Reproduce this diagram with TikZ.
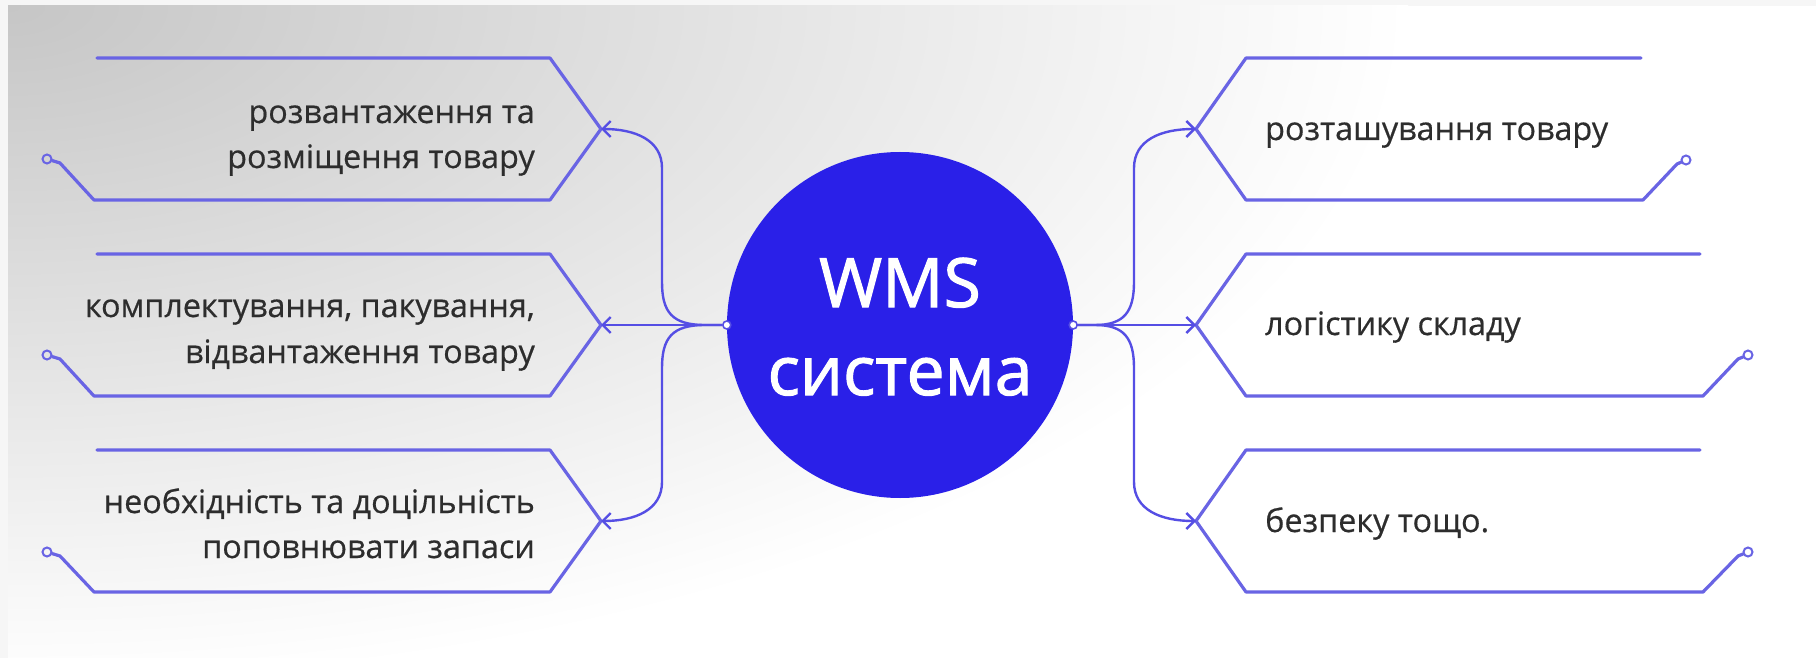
\documentclass[tikz,border=0pt]{standalone}
\usepackage{fontspec}
\setmainfont{Open Sans}
\newfontfamily\ctrfont[FakeBold=1.6]{Open Sans}
\newfontfamily\lblfont[FakeBold=0.5]{Open Sans}
\usetikzlibrary{arrows.meta}
\definecolor{wmsblue}{RGB}{42,32,232}
\definecolor{boxline}{RGB}{105,100,228}
\definecolor{conn}{RGB}{85,78,228}
\definecolor{txt}{RGB}{45,45,45}
\definecolor{bgdark}{RGB}{198,198,198}
\definecolor{bgedge}{RGB}{246,246,246}
\begin{document}
\begin{tikzpicture}[x=1pt,y=-1pt,
  boxln/.style={draw=boxline,line width=3.2pt,line join=round,line cap=round},
  cn/.style={draw=conn,line width=2.4pt},
  arr/.style={-{Straight Barb[length=8pt,width=16pt]}},
  endc/.style={circle,draw=boxline,line width=2pt,minimum size=9pt,inner sep=0pt},
  dotc/.style={circle,draw=conn,fill=white,line width=1.6pt,minimum size=8pt,inner sep=0pt},
  lbl/.style={font=\lblfont\fontsize{32.3}{40}\selectfont,text=txt,inner sep=0pt},
  ctr/.style={font=\ctrfont\fontsize{68}{88}\selectfont,text=white,inner sep=0pt}]
\useasboundingbox (0,0) rectangle (1816,658);
\fill[bgedge] (0,0) rectangle (1816,658);
\begin{scope}
\clip (8,6) rectangle (1816,658);
\fill[white] (8,6) rectangle (1816,658);
\shade[inner color=bgdark, outer color=white] (8,6) ellipse [x radius=1400, y radius=680];
\end{scope}

% central circle
\node[circle,fill=wmsblue,minimum size=346pt,inner sep=0pt] (wms) at (900,325) {};
\node[ctr,anchor=base] (w1) at (900,307) {WMS};
\node[ctr,anchor=base] (w2) at (900,395) {система};
\node[dotc] (dL) at (wms.west) {};
\node[dotc] (dR) at (wms.east) {};

% tips
\coordinate (tL1) at (601,129);
\coordinate (tL2) at (601,325);
\coordinate (tL3) at (601,521);
\coordinate (tR1) at (1196,129);
\coordinate (tR2) at (1196,325);
\coordinate (tR3) at (1196,521);

% end circles
\node[endc] (eL1) at (47,159) {};
\node[endc] (eL2) at (47,355) {};
\node[endc] (eL3) at (47,552) {};
\node[endc] (eR1) at (1686,160) {};
\node[endc] (eR2) at (1748,355) {};
\node[endc] (eR3) at (1748,552) {};

% left boxes
\draw[boxln] (97,58) -- (550,58) -- (tL1) -- (550,200) -- (94,200) -- (60,163) -- (eL1);
\draw[boxln] (97,254) -- (550,254) -- (tL2) -- (550,396) -- (94,396) -- (60,359) -- (eL2);
\draw[boxln] (97,450) -- (550,450) -- (tL3) -- (550,592) -- (94,592) -- (60,556) -- (eL3);

% right boxes
\draw[boxln] (1641,58) -- (1246,58) -- (tR1) -- (1246,200) -- (1643,200) -- (1677,164) -- (eR1);
\draw[boxln] (1700,254) -- (1246,254) -- (tR2) -- (1246,396) -- (1703,396) -- (1738,359) -- (eR2);
\draw[boxln] (1700,450) -- (1246,450) -- (tR3) -- (1246,592) -- (1703,592) -- (1738,556) -- (eR3);

% connectors left
\draw[cn,arr] (dL) -- (tL2);
\draw[cn,arr] (dL) -- (705,325) .. controls (672,325) and (662,312) .. (662,282) -- (662,168) .. controls (662,140) and (635,129) .. (tL1);
\draw[cn,arr] (dL) -- (705,325) .. controls (672,325) and (662,338) .. (662,368) -- (662,482) .. controls (662,510) and (635,521) .. (tL3);
% connectors right
\draw[cn,arr] (dR) -- (tR2);
\draw[cn,arr] (dR) -- (1095,325) .. controls (1124,325) and (1134,312) .. (1134,282) -- (1134,168) .. controls (1134,140) and (1161,129) .. (tR1);
\draw[cn,arr] (dR) -- (1095,325) .. controls (1124,325) and (1134,338) .. (1134,368) -- (1134,482) .. controls (1134,510) and (1161,521) .. (tR3);

% labels left
\node[lbl,anchor=base east] (a1) at (535,123) {розвантаження та};
\node[lbl,anchor=base east] (a2) at (535,168) {розміщення товару};
\node[lbl,anchor=base east] (b1) at (535,317) {комплектування, пакування,};
\node[lbl,anchor=base east] (b2) at (535,363) {відвантаження товару};
\node[lbl,anchor=base east] (c1) at (535,513) {необхідність та доцільність};
\node[lbl,anchor=base east] (c2) at (535,558) {поповнювати запаси};
% labels right
\node[lbl,anchor=base west] (r1) at (1265,140) {розташування товару};
\node[lbl,anchor=base west] (r2) at (1265,335) {логістику складу};
\node[lbl,anchor=base west] (r3) at (1265,532) {безпеку тощо.};
\end{tikzpicture}
\end{document}
